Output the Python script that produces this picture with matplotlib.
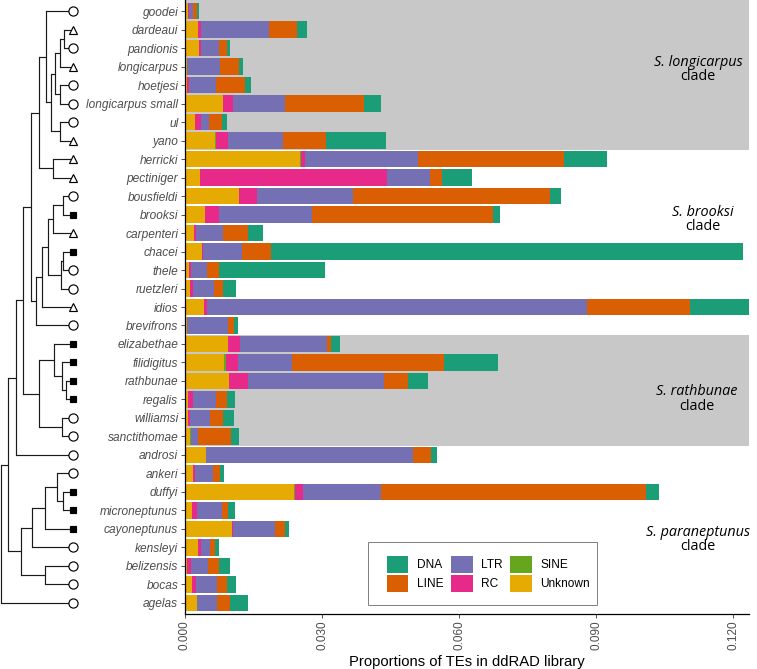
import matplotlib
matplotlib.use("Agg")
import matplotlib.pyplot as plt
import numpy as np
from matplotlib.patches import Patch, Rectangle

# ---------------- data ----------------
species = ["goodei", "dardeaui", "pandionis", "longicarpus", "hoetjesi",
           "longicarpus small", "ul", "yano", "herricki", "pectiniger",
           "bousfieldi", "brooksi", "carpenteri", "chacei", "thele",
           "ruetzleri", "idios", "brevifrons", "elizabethae", "filidigitus",
           "rathbunae", "regalis", "williamsi", "sanctithomae", "androsi",
           "ankeri", "duffyi", "microneptunus", "cayoneptunus", "kensleyi",
           "belizensis", "bocas", "agelas"]

unknown = [0.00060, 0.00277, 0.00314, 0.00036, 0.00036, 0.00825, 0.00219, 0.00657,
           0.02520, 0.00328, 0.01180, 0.00438, 0.00204, 0.00365, 0.00088, 0.00110,
           0.00416, 0.00050, 0.00949, 0.00854, 0.00964, 0.00073, 0.00073, 0.00110,
           0.00460, 0.00182, 0.02390, 0.00153, 0.01040, 0.00277, 0.00036, 0.00146,
           0.00270]
sine = [0.00015, 0, 0, 0, 0, 0, 0, 0.00020,
        0.00020, 0, 0, 0, 0, 0, 0, 0,
        0, 0, 0, 0.00036, 0, 0, 0, 0.00020,
        0, 0, 0.00020, 0, 0, 0, 0, 0,
        0]
rc = [0.00005, 0.00066, 0.00030, 0.00015, 0.00044, 0.00234, 0.00139, 0.00263,
      0.00095, 0.04100, 0.00387, 0.00314, 0.00030, 0.00020, 0.00044, 0.00066,
      0.00073, 0, 0.00255, 0.00277, 0.00423, 0.00110, 0.00030, 0,
      0, 0.00036, 0.00175, 0.00110, 0.00020, 0.00066, 0.00095, 0.00095,
      0]
ltr = [0.00085, 0.01500, 0.00400, 0.00715, 0.00600, 0.01140, 0.00168, 0.01197,
       0.02460, 0.00934, 0.02120, 0.02030, 0.00590, 0.00870, 0.00343, 0.00460,
       0.08320, 0.00900, 0.01910, 0.01175, 0.02960, 0.00490, 0.00438, 0.00153,
       0.04530, 0.00400, 0.01715, 0.00540, 0.00920, 0.00204, 0.00365, 0.00467,
       0.00438]
line = [0.00100, 0.00606, 0.00168, 0.00423, 0.00628, 0.01715, 0.00285, 0.00949,
        0.03195, 0.00255, 0.04310, 0.03970, 0.00547, 0.00628, 0.00270, 0.00204,
        0.02250, 0.00124, 0.00080, 0.03330, 0.00533, 0.00240, 0.00285, 0.00730,
        0.00400, 0.00146, 0.05800, 0.00131, 0.00210, 0.00117, 0.00240, 0.00219,
        0.00277]
dna = [0.00040, 0.00226, 0.00073, 0.00088, 0.00139, 0.00387, 0.00102, 0.01307,
       0.00950, 0.00660, 0.00230, 0.00150, 0.00336, 0.10340, 0.02310, 0.00277,
       0.01290, 0.00095, 0.00204, 0.01180, 0.00431, 0.00182, 0.00255, 0.00175,
       0.00117, 0.00080, 0.00280, 0.00168, 0.00088, 0.00080, 0.00248, 0.00197,
       0.00394]

te_types = ["DNA", "LINE", "LTR", "RC", "SINE", "Unknown"]
te_colors = ["#1B9E77", "#D95F02", "#7570B3", "#E7298A", "#66A61E", "#E6AB02"]

tip_shape = ["circle", "triangle", "circle", "triangle", "circle", "circle",
             "circle", "triangle", "triangle", "triangle", "circle", "square",
             "triangle", "square", "circle", "circle", "triangle", "circle",
             "square", "square", "square", "square", "circle", "circle",
             "circle", "circle", "square", "square", "square", "circle",
             "circle", "circle", "circle"]

# tree: internal node -> list of (child, branch length)
tree = {
    "root": [("n25", 7.3), ("agelas", 72)],
    "n25": [("n48", 7.7), ("n62", 12.4)],
    "n48": [("n70", 7.3), ("androsi", 57)],
    "n70": [("n92", 7.4), ("n117", 15.7)],
    "n92": [("n116", 8), ("n107", 5)],
    "n116": [("n137", 7), ("n160hp", 14.6)],
    "n137": [("goodei", 27.3), ("n152", 5)],
    "n152": [("n165", 4.3), ("n180uy", 9.3)],
    "n165": [("n180d", 5), ("n180h", 5)],
    "n180d": [("n193", 4.3), ("longicarpus", 13)],
    "n193": [("dardeaui", 8.7), ("pandionis", 8.7)],
    "n180h": [("hoetjesi", 13), ("longicarpus small", 13)],
    "n180uy": [("ul", 13), ("yano", 13)],
    "n160hp": [("herricki", 19.7), ("pectiniger", 19.7)],
    "n107": [("n125", 6), ("brevifrons", 37.3)],
    "n125": [("n145", 6.6), ("idios", 31.3)],
    "n145": [("n160b", 5), ("n182", 12.4)],
    "n160b": [("n190b", 10), ("carpenteri", 19.7)],
    "n190b": [("bousfieldi", 9.7), ("brooksi", 9.7)],
    "n182": [("n190c", 2.6), ("ruetzleri", 12.3)],
    "n190c": [("chacei", 9.7), ("thele", 9.7)],
    "n117": [("n162", 15), ("n185ws", 22.7)],
    "n162": [("elizabethae", 19), ("n185fr", 7.7)],
    "n185fr": [("filidigitus", 11.3), ("n197", 4)],
    "n197": [("rathbunae", 7.3), ("regalis", 7.3)],
    "n185ws": [("williamsi", 11.3), ("sanctithomae", 11.3)],
    "n62": [("n97", 11.6), ("n135bb", 24.3)],
    "n97": [("n135", 12.7), ("kensleyi", 40.7)],
    "n135": [("n172", 12.3), ("cayoneptunus", 28)],
    "n172": [("ankeri", 15.7), ("n190d", 6)],
    "n190d": [("duffyi", 9.7), ("microneptunus", 9.7)],
    "n135bb": [("belizensis", 28), ("bocas", 28)],
}

clade_labels = [("S. longicarpus", "clade"), ("S. brooksi", "clade"),
                ("S. rathbunae", "clade"), ("S. paraneptunus", "clade")]
shaded_rows = [("goodei", "yano"), ("elizabethae", "sanctithomae")]

# ---------------- figure ----------------
W, H = 757, 669
fig = plt.figure(figsize=(W / 100, H / 100), dpi=100)


def rect(x0, y0, x1, y1):
    return [x0 / W, 1 - y1 / H, (x1 - x0) / W, (y1 - y0) / H]


n = len(species)
ypos = np.arange(n)
ylim = (n - 1 + 0.6, -0.6)

ax = fig.add_axes(rect(185, 0, 749, 614))
ax.set_ylim(*ylim)

# shaded clades
for a, b in shaded_rows:
    ax.axhspan(species.index(a) - 0.5 if a != species[0] else -0.6,
               species.index(b) + 0.5, color="#C8C8C8", zorder=0, lw=0)

# stacked bars (left to right: Unknown, SINE, RC, LTR, LINE, DNA)
series = {"DNA": dna, "LINE": line, "LTR": ltr, "RC": rc, "SINE": sine, "Unknown": unknown}
order = ["Unknown", "SINE", "RC", "LTR", "LINE", "DNA"]
left = np.zeros(n)
for t in order:
    vals = np.array(series[t])
    ax.barh(ypos, vals, left=left, height=0.9,
            color=te_colors[te_types.index(t)], lw=0, zorder=2)
    left += vals

ax.set_xlim(0, left.max())
ax.set_yticks(ypos)
ax.set_yticklabels(species, fontstyle="italic", fontsize=8.6, color="#4D4D4D",
                   family="Liberation Sans")
xt = [0, 0.03, 0.06, 0.09, 0.12]
ax.set_xticks(xt)
ax.set_xticklabels([f"{v:.3f}" for v in xt], rotation=90, fontsize=8.5,
                   color="#4D4D4D", family="Liberation Sans")
ax.tick_params(axis="both", length=2.6, width=0.6, color="#333333", pad=2.2)
for s in ["top", "right"]:
    ax.spines[s].set_visible(False)
for s in ["left", "bottom"]:
    ax.spines[s].set_linewidth(0.9)
    ax.spines[s].set_color("black")
ax.set_xlabel("Proportions of TEs in ddRAD library", fontsize=10.7,
              family="Liberation Sans", labelpad=3)

# legend
handles = [Patch(facecolor=c, edgecolor="none") for c in te_colors]
leg = ax.legend(handles, te_types, ncol=3, loc="upper left",
                bbox_to_anchor=(381 / W, 1 - 550 / H), bbox_transform=fig.transFigure,
                frameon=False, handlelength=1.8, handleheight=1.8,
                handletextpad=0.7, columnspacing=0.65, labelspacing=0.15,
                borderpad=0, prop={"family": "Liberation Sans", "size": 8.6})
fig.patches.append(Rectangle((368 / W, 1 - 605 / H), (597 - 368) / W, (605 - 542) / H,
                             transform=fig.transFigure, fill=False,
                             edgecolor="#7F7F7F", lw=0.7, zorder=5))

# clade labels
clade_pos = [(698, 63), (703, 213), (697, 392), (698, 533)]
for (l1, l2), (cx, cy) in zip(clade_labels, clade_pos):
    fig.text(cx / W, 1 - cy / H, l1, ha="center", va="center", fontsize=10.4,
             fontstyle="italic", family="Open Sans", color="black")
    fig.text(cx / W, 1 - (cy + 14) / H, l2, ha="center", va="center", fontsize=10.4,
             family="Open Sans", color="black")

# ---------------- tree ----------------
axt = fig.add_axes(rect(0, 0, 80, 614))
axt.set_ylim(*ylim)
axt.set_xlim(-1, 79)
axt.axis("off")

node_x, node_y = {}, {}


def layout(name, depth):
    node_x[name] = depth
    if name in tree:
        ys = []
        for child, bl in tree[name]:
            layout(child, depth + bl)
            ys.append(node_y[child])
        node_y[name] = np.mean(ys)
    else:
        node_y[name] = species.index(name)


layout("root", 0.0)
lc = "#1A1A1A"
lw = 0.85
for name, kids in tree.items():
    ys = [node_y[c] for c, _ in kids]
    axt.plot([node_x[name]] * 2, [min(ys), max(ys)], color=lc, lw=lw,
             solid_capstyle="projecting")
    for c, _ in kids:
        axt.plot([node_x[name], node_x[c]], [node_y[c]] * 2, color=lc, lw=lw,
                 solid_capstyle="butt")

marker_map = {"circle": ("o", 6.6, "white"), "triangle": ("^", 5.6, "white"),
              "square": ("s", 5.0, "black")}
for sp, sh in zip(species, tip_shape):
    m, ms, fc = marker_map[sh]
    axt.plot(node_x[sp], node_y[sp], marker=m, ms=ms, mfc=fc, mec="black",
             mew=0.85, zorder=5, clip_on=False)

fig.savefig("out.png", dpi=100)
